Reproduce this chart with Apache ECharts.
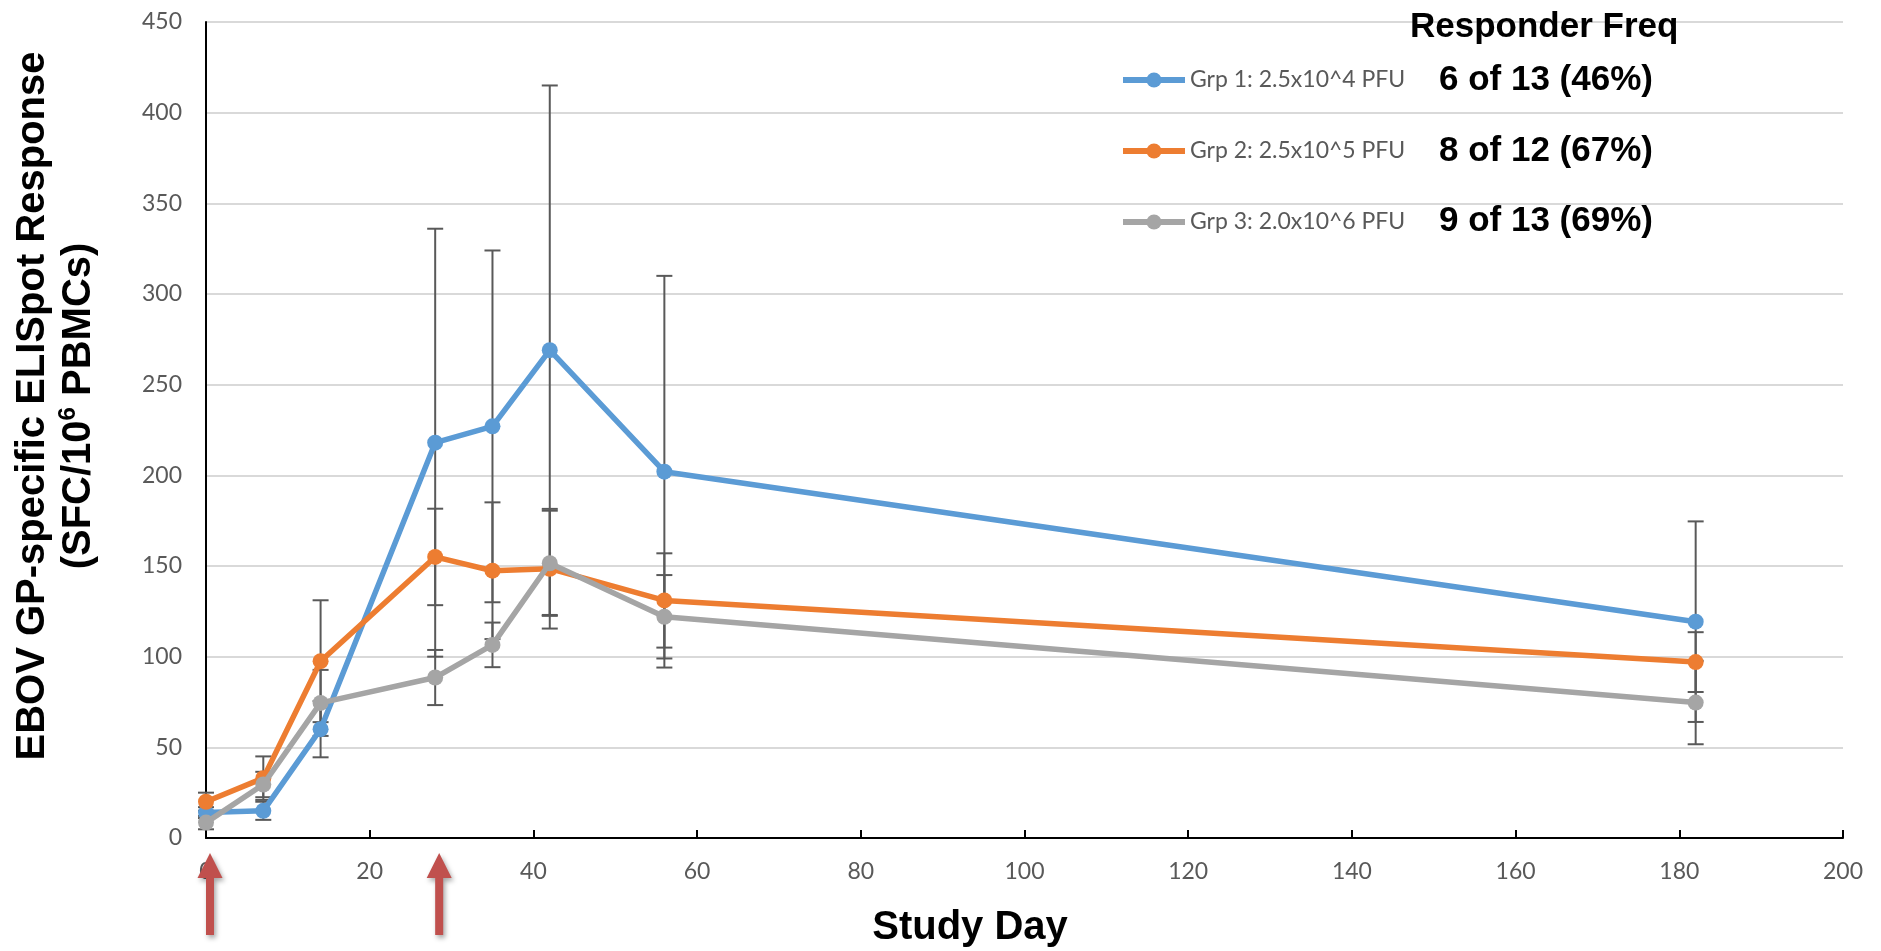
<!DOCTYPE html>
<html>
<head>
<meta charset="utf-8">
<title>EBOV GP ELISpot</title>
<script src="https://cdn.jsdelivr.net/npm/echarts@6/dist/echarts.min.js"></script>
<style>
	html, body { margin: 0; padding: 0; background: #fff; }
	#chart { width: 1881px; height: 951px; }
</style>
</head>
<body>
<div id="chart"></div>
<script>
// study days and mean responses
var days = [0, 7, 14, 28, 35, 42, 56, 182];
var grp1 = [14, 15, 60, 218, 227, 269, 202, 119.3];
var grp2 = [20, 33, 97.5, 155, 147.4, 148.5, 131, 97];
var grp3 = [8.5, 29.5, 74.5, 88.5, 106.5, 151.5, 122, 74.7];
// symmetric error bar sizes
var grp1Err = [3, 5, 15.5, 118, 97, 146, 108, 55.3];
var grp2Err = [5, 12, 33.6, 26.6, 37.7, 33, 26, 16.5];
var grp3Err = [3.7, 7, 18.2, 15.2, 12.3, 29, 23, 23];

var groupNames = ['Grp 1: 2.5x10^4 PFU', 'Grp 2: 2.5x10^5 PFU', 'Grp 3: 2.0x10^6 PFU'];
var responderFreq = ['6 of 13 (46%)', '8 of 12 (67%)', '9 of 13 (69%)'];
var doseDays = [0, 28];
var colors = ['#5b9bd5', '#ed7d31', '#a5a5a5'];

var tickFont = 'Lato, "Open Sans", sans-serif';
var boldFont = '"Liberation Sans", Arial, sans-serif';

function pairs(vals) {
	return days.map(function (d, i) { return [d, vals[i]]; });
}
function errRows(vals, errs) {
	return days.map(function (d, i) { return [d, vals[i] - errs[i], vals[i] + errs[i]]; });
}

function errorBar(params, api) {
	var x = api.value(0);
	var lo = api.coord([x, api.value(1)]);
	var hi = api.coord([x, api.value(2)]);
	var w = 8;
	var st = { stroke: '#595959', lineWidth: 2 };
	return {
		type: 'group',
		children: [
			{ type: 'line', shape: { x1: lo[0], y1: lo[1], x2: hi[0], y2: hi[1] }, style: st },
			{ type: 'line', shape: { x1: lo[0] - w, y1: lo[1], x2: lo[0] + w, y2: lo[1] }, style: st },
			{ type: 'line', shape: { x1: hi[0] - w, y1: hi[1], x2: hi[0] + w, y2: hi[1] }, style: st }
		]
	};
}

// red arrows under the axis marking the vaccination days
function doseArrow(params, api) {
	var p = api.coord([api.value(0), 0]);
	var x = p[0] + 4, y = p[1];
	return {
		type: 'polygon',
		shape: {
			points: [[x, y + 15], [x + 12.5, y + 40], [x + 4, y + 40], [x + 4, y + 97],
				[x - 4, y + 97], [x - 4, y + 40], [x - 12.5, y + 40]]
		},
		style: {
			fill: '#c0504d', shadowBlur: 5, shadowColor: 'rgba(0,0,0,0.35)',
			shadowOffsetX: 2, shadowOffsetY: 3
		}
	};
}

var series = [];
var allVals = [grp1, grp2, grp3];
var allErrs = [grp1Err, grp2Err, grp3Err];
for (var i = 0; i < 3; i++) {
	series.push({
		name: 'err' + i,
		type: 'custom',
		silent: true,
		z: 1,
		renderItem: errorBar,
		encode: { x: 0, y: [1, 2] },
		data: errRows(allVals[i], allErrs[i])
	});
}
for (var j = 0; j < 3; j++) {
	series.push({
		name: groupNames[j],
		type: 'line',
		z: 3 + j,
		data: pairs(allVals[j]),
		symbol: 'circle',
		symbolSize: 16,
		showAllSymbol: true,
		lineStyle: { width: 5.5, color: colors[j] },
		itemStyle: { color: colors[j] }
	});
}
series.push({
	type: 'custom',
	silent: true,
	clip: false,
	z: 10,
	renderItem: doseArrow,
	encode: { x: 0, y: 1 },
	data: doseDays.map(function (d) { return [d, 0]; })
});

var graphics = [
	{
		type: 'text', x: 1410, y: 27, z: 100,
		style: { text: 'Responder Freq', font: 'bold 35px ' + boldFont, fill: '#000', textAlign: 'left', textVerticalAlign: 'middle' }
	},
	{
		type: 'text', x: 970, y: 928, z: 100,
		style: { text: 'Study Day', font: 'bold 40px ' + boldFont, fill: '#000', textAlign: 'center', textVerticalAlign: 'middle' }
	},
	{
		type: 'text', x: 56, y: 406, rotation: Math.PI / 2, z: 100,
		style: {
			text: '{a|EBOV GP-specific ELISpot Response}\n{a|(SFC/10}{s|6}{a| PBMCs)}',
			textAlign: 'center', textVerticalAlign: 'middle', fill: '#000',
			rich: {
				a: { fontSize: 40, fontWeight: 'bold', fontFamily: boldFont, lineHeight: 46, fill: '#000' },
				s: { fontSize: 24, fontWeight: 'bold', fontFamily: boldFont, lineHeight: 30, verticalAlign: 'top', fill: '#000' }
			}
		}
	}
];
var freqY = [80, 151, 221];
for (var k = 0; k < 3; k++) {
	graphics.push({
		type: 'text', x: 1439, y: freqY[k], z: 100,
		style: { text: responderFreq[k], font: 'bold 35px ' + boldFont, fill: '#000', textAlign: 'left', textVerticalAlign: 'middle' }
	});
}

var chart = echarts.init(document.getElementById('chart'));
chart.setOption({
	animation: false,
	backgroundColor: '#fff',
	grid: { left: 206, right: 38, top: 22, bottom: 113 },
	legend: {
		data: groupNames,
		orient: 'vertical',
		left: 1120,
		top: 68,
		padding: 0,
		itemWidth: 62,
		itemHeight: 19,
		itemGap: 47,
		lineStyle: { width: 6 },
		textStyle: { fontFamily: tickFont, fontSize: 23, color: '#595959', lineHeight: 24 }
	},
	xAxis: {
		type: 'value',
		min: 0,
		max: 200,
		interval: 20,
		axisLine: { show: true, lineStyle: { color: '#000', width: 2 } },
		axisTick: { show: true, inside: true, length: 8, lineStyle: { color: '#000', width: 2 } },
		axisLabel: { margin: 22, fontFamily: tickFont, fontSize: 23, color: '#595959' },
		splitLine: { show: false }
	},
	yAxis: {
		type: 'value',
		min: 0,
		max: 450,
		interval: 50,
		axisLine: { show: true, lineStyle: { color: '#000', width: 2 } },
		axisTick: { show: false },
		axisLabel: { margin: 24, fontFamily: tickFont, fontSize: 23, color: '#595959' },
		splitLine: { show: true, lineStyle: { color: '#d9d9d9', width: 2 } }
	},
	graphic: graphics,
	series: series
});
</script>
</body>
</html>
